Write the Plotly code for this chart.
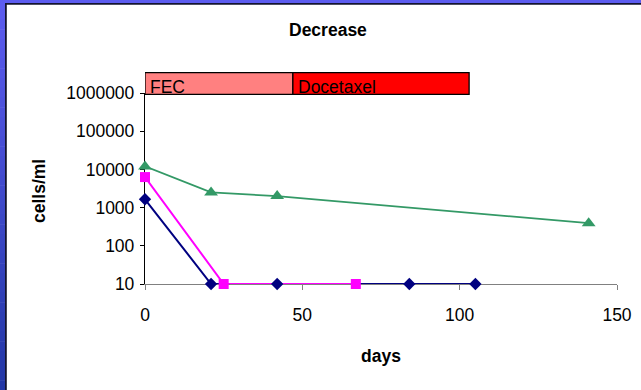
import plotly.graph_objects as go

# ---- data -------------------------------------------------------------
navy_days = [0, 21, 42, 84, 105]
navy_cells = [1650, 10, 10, 10, 10]

pink_days = [0, 25, 67]
pink_cells = [6300, 10, 10]

green_days = [0, 21, 42, 141]
green_cells = [12000, 2500, 2000, 390]

phase_names = ["FEC", "Docetaxel"]
phase_start = [0, 47]
phase_end = [47, 103]
phase_colors = ["#ff8080", "#ff0000"]

x_ticks = [0, 50, 100, 150]
y_ticks = [10, 100, 1000, 10000, 100000, 1000000]
y_tick_text = ["10", "100", "1000", "10000", "100000", "1000000"]

# ---- geometry ---------------------------------------------------------
W, H = 641, 390
ML, MR, MT, MB = 145, 24, 93, 106
PW, PH = W - ML - MR, H - MT - MB


def px(xp):
    """pixel x -> paper x"""
    return (xp - ML) / PW


def py(yp):
    """pixel y (from top) -> paper y"""
    return (H - MB - yp) / PH


FONT = "Arial, 'Liberation Sans', sans-serif"
FS = 17.5

fig = go.Figure()

series = [
    (navy_days, navy_cells, "#000080", "diamond", 9.5, 2),
    (pink_days, pink_cells, "#ff00ff", "square", 10, 2),
    (green_days, green_cells, "#339966", "triangle-up", 12, 1.8),
]

# lines first, markers on top
for d, c, col, sym, sz, lw in series:
    fig.add_trace(go.Scatter(x=d, y=c, mode="lines", line=dict(color=col, width=lw),
                             cliponaxis=False, showlegend=False, hoverinfo="skip"))
for d, c, col, sym, sz, lw in series:
    fig.add_trace(go.Scatter(x=d, y=c, mode="markers",
                             marker=dict(color=col, symbol=sym, size=sz, line=dict(width=0)),
                             cliponaxis=False, showlegend=False))

shapes = []

# blue frame: vertical gradient strip on the left, band on top
n_bands = 40
top_rgb = (92, 92, 240)
bot_rgb = (34, 54, 166)
for i in range(n_bands):
    t = i / (n_bands - 1)
    r = round(top_rgb[0] + (bot_rgb[0] - top_rgb[0]) * t)
    g = round(top_rgb[1] + (bot_rgb[1] - top_rgb[1]) * t)
    b = round(top_rgb[2] + (bot_rgb[2] - top_rgb[2]) * t)
    y0 = H * i / n_bands
    y1 = H * (i + 1) / n_bands + 0.5
    shapes.append(dict(type="rect", xref="paper", yref="paper",
                       x0=px(0), x1=px(5), y0=py(y1), y1=py(y0),
                       fillcolor=f"rgb({r},{g},{b})", line=dict(width=0), layer="below"))
shapes.append(dict(type="rect", xref="paper", yref="paper",
                   x0=px(0), x1=px(W), y0=py(3), y1=py(0),
                   fillcolor="rgb(92,92,240)", line=dict(width=0), layer="below"))
# dark edge of the white chart area
shapes.append(dict(type="rect", xref="paper", yref="paper",
                   x0=px(5), x1=px(6.8), y0=py(H), y1=py(3),
                   fillcolor="#141430", line=dict(width=0), layer="below"))
shapes.append(dict(type="rect", xref="paper", yref="paper",
                   x0=px(5), x1=px(W), y0=py(4.7), y1=py(3),
                   fillcolor="#141430", line=dict(width=0), layer="below"))

# treatment phase bars above the plot
for name, s, e, col in zip(phase_names, phase_start, phase_end, phase_colors):
    shapes.append(dict(type="rect", xref="x", yref="paper",
                       x0=s, x1=e, y0=py(94.3), y1=py(72.7),
                       fillcolor=col, line=dict(color="#000000", width=1.3), layer="above"))

annotations = []
for name, s in zip(phase_names, phase_start):
    annotations.append(dict(x=s, xref="x", y=py(86.5), yref="paper", text=name,
                            showarrow=False, xanchor="left", yanchor="middle", xshift=3,
                            font=dict(family=FONT, size=FS, color="#000000")))

annotations.append(dict(x=px(328), y=py(30), xref="paper", yref="paper", text="<b>Decrease</b>",
                        showarrow=False, xanchor="center", yanchor="middle",
                        font=dict(family=FONT, size=FS, color="#000000")))
annotations.append(dict(x=px(381), y=py(356), xref="paper", yref="paper", text="<b>days</b>",
                        showarrow=False, xanchor="center", yanchor="middle",
                        font=dict(family=FONT, size=FS, color="#000000")))
annotations.append(dict(x=px(39), y=py(191), xref="paper", yref="paper", text="<b>cells/ml</b>",
                        showarrow=False, xanchor="center", yanchor="middle", textangle=-90,
                        font=dict(family=FONT, size=FS, color="#000000")))

fig.update_layout(
    width=W, height=H,
    margin=dict(l=ML, r=MR, t=MT, b=MB, pad=0, autoexpand=False),
    paper_bgcolor="#ffffff", plot_bgcolor="#ffffff",
    shapes=shapes, annotations=annotations,
    font=dict(family=FONT, size=FS, color="#000000"),
    xaxis=dict(range=[0, 150], tickvals=x_ticks, showgrid=False, zeroline=False,
               showline=True, linecolor="#808080", linewidth=1.3,
               ticks="outside", ticklen=5, tickcolor="#808080", tickwidth=1,
               ticklabelstandoff=10, automargin=False,
               tickfont=dict(family=FONT, size=FS, color="#000000"),
               layer="below traces", fixedrange=True),
    yaxis=dict(type="log", range=[1, 6], tickvals=y_ticks, ticktext=y_tick_text,
               showgrid=False, zeroline=False,
               showline=True, linecolor="#000000", linewidth=1.3,
               ticks="outside", ticklen=4, tickcolor="#000000", tickwidth=1,
               ticklabelstandoff=2, automargin=False,
               tickfont=dict(family=FONT, size=FS, color="#000000"),
               layer="below traces", fixedrange=True),
)

fig.write_html("out.html", config={"displayModeBar": False})
